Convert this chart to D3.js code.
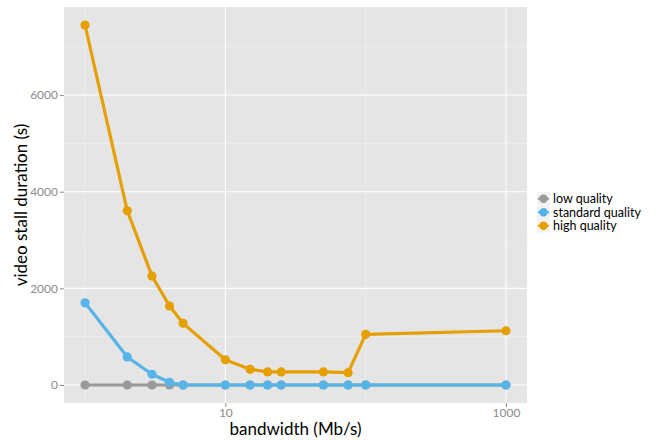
<!DOCTYPE html>
<head>
    <meta charset="utf-8">
    <script src="https://d3js.org/d3.v7.min.js"></script>
    <style>
      body { margin: 0; background: #fff; }
      text { font-family: Lato, "Open Sans", sans-serif; }
      .ticklabel { font-size: 12px; fill: #8c8c8c; }
      .axistitle { font-size: 17px; fill: #000; }
      .legendtext { font-size: 12.5px; fill: #000; }
    </style>
<body>
    <script>
        // data
        var bandwidth = [1, 2, 3, 4, 5, 10, 15, 20, 25, 50, 75, 100, 1000];
        var lowQuality = [0, 0, 0, 0, 0, 0, 0, 0, 0, 0, 0, 0, 0];
        var standardQuality = [1700, 580, 222, 56, 0, 0, 0, 0, 0, 0, 0, 0, 0];
        var highQuality = [7450, 3605, 2255, 1635, 1276, 523, 324, 270, 270, 270, 256, 1048, 1123];
        var seriesNames = ["low quality", "standard quality", "high quality"];
        var seriesColors = ["#999999", "#56B4E9", "#E69F00"];
        var yTicks = [0, 2000, 4000, 6000];
        var yMinor = [1000, 3000, 5000, 7000];
        var xTicks = [10, 1000];
        var xMinor = [1, 100];

        var series = [lowQuality, standardQuality, highQuality].map(function(vals, i) {
          return {
            name: seriesNames[i],
            color: seriesColors[i],
            points: bandwidth.map(function(b, j) { return {x: b, y: vals[j]}; })
          };
        });

        var svg = d3.select("body").append("svg")
          .attr("width", 667)
          .attr("height", 440);

        var panel = {left: 64, top: 7, right: 527, bottom: 403};

        // ggplot-like 5% expansion
        var x = d3.scaleLog().domain([Math.pow(10, -0.15), Math.pow(10, 3.15)])
          .range([panel.left, panel.right]);
        var yMax = d3.max(highQuality), yPad = yMax * 0.05;
        var y = d3.scaleLinear().domain([-yPad, yMax + yPad])
          .range([panel.bottom, panel.top]);

        svg.append("rect")
          .attr("x", panel.left).attr("y", panel.top)
          .attr("width", panel.right - panel.left)
          .attr("height", panel.bottom - panel.top)
          .attr("fill", "#e5e5e5");

        var grid = svg.append("g");
        grid.selectAll(".yminor").data(yMinor).enter().append("line")
          .attr("x1", panel.left).attr("x2", panel.right)
          .attr("y1", function(d) { return y(d); }).attr("y2", function(d) { return y(d); })
          .attr("stroke", "#f2f2f2").attr("stroke-width", 0.6);
        grid.selectAll(".xminor").data(xMinor).enter().append("line")
          .attr("y1", panel.top).attr("y2", panel.bottom)
          .attr("x1", function(d) { return x(d); }).attr("x2", function(d) { return x(d); })
          .attr("stroke", "#f2f2f2").attr("stroke-width", 0.6);
        grid.selectAll(".ymajor").data(yTicks).enter().append("line")
          .attr("x1", panel.left).attr("x2", panel.right)
          .attr("y1", function(d) { return y(d); }).attr("y2", function(d) { return y(d); })
          .attr("stroke", "#ffffff").attr("stroke-width", 1.1);
        grid.selectAll(".xmajor").data(xTicks).enter().append("line")
          .attr("y1", panel.top).attr("y2", panel.bottom)
          .attr("x1", function(d) { return x(d); }).attr("x2", function(d) { return x(d); })
          .attr("stroke", "#ffffff").attr("stroke-width", 1.1);

        // axes
        var yAxis = svg.append("g")
          .attr("transform", "translate(" + panel.left + ",0)")
          .call(d3.axisLeft(y).tickValues(yTicks).tickSize(4).tickPadding(2).tickFormat(d3.format("d")));
        yAxis.select(".domain").remove();
        yAxis.selectAll("line").attr("stroke", "#8c8c8c");
        yAxis.selectAll("text").attr("class", "ticklabel").attr("font-size", null).attr("font-family", null);

        var xAxis = svg.append("g")
          .attr("transform", "translate(0," + panel.bottom + ")")
          .call(d3.axisBottom(x).tickValues(xTicks).tickSize(4).tickPadding(1).tickFormat(d3.format("d")));
        xAxis.select(".domain").remove();
        xAxis.selectAll("line").attr("stroke", "#8c8c8c");
        xAxis.selectAll("text").attr("class", "ticklabel").attr("font-size", null).attr("font-family", null);

        svg.append("text").attr("class", "axistitle")
          .attr("x", (panel.left + panel.right) / 2).attr("y", 435)
          .attr("text-anchor", "middle")
          .text("bandwidth (Mb/s)");
        svg.append("text").attr("class", "axistitle")
          .attr("transform", "translate(27," + (panel.top + panel.bottom) / 2 + ") rotate(-90)")
          .attr("text-anchor", "middle")
          .text("video stall duration (s)");

        // lines and points
        var line = d3.line().x(function(d) { return x(d.x); }).y(function(d) { return y(d.y); });
        var groups = svg.selectAll(".series").data(series).enter().append("g");
        groups.append("path")
          .attr("d", function(d) { return line(d.points); })
          .attr("fill", "none")
          .attr("stroke", function(d) { return d.color; })
          .attr("stroke-width", 3.2)
          .attr("stroke-linejoin", "round");
        groups.each(function(s) {
          d3.select(this).selectAll("circle").data(s.points).enter().append("circle")
            .attr("cx", function(d) { return x(d.x); })
            .attr("cy", function(d) { return y(d.y); })
            .attr("r", 4.6)
            .attr("fill", s.color);
        });

        // legend
        var legend = svg.append("g").attr("transform", "translate(537,192)");
        var items = legend.selectAll(".item").data(series).enter().append("g")
          .attr("transform", function(d, i) { return "translate(0," + (i * 13.5) + ")"; });
        items.append("rect")
          .attr("width", 13).attr("height", 13.5)
          .attr("fill", "#f2f2f2");
        items.append("line")
          .attr("x1", 1).attr("x2", 12).attr("y1", 6.75).attr("y2", 6.75)
          .attr("stroke", function(d) { return d.color; }).attr("stroke-width", 2);
        items.append("circle")
          .attr("cx", 6.5).attr("cy", 6.75).attr("r", 4.2)
          .attr("fill", function(d) { return d.color; });
        items.append("text").attr("class", "legendtext")
          .attr("x", 16).attr("y", 11)
          .text(function(d) { return d.name; });
    </script>
</body>
